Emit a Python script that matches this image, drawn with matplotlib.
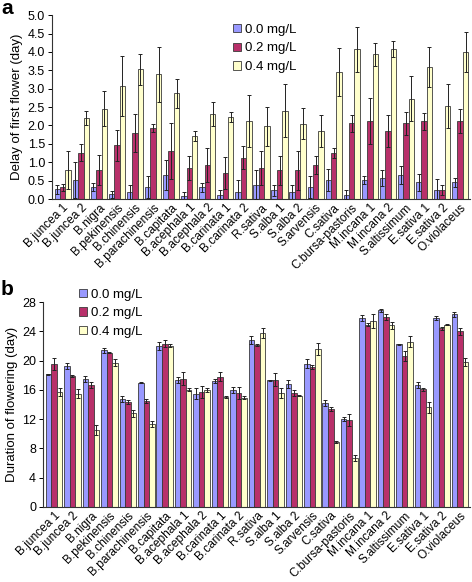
import numpy as np
import matplotlib
matplotlib.use("Agg")
import matplotlib.pyplot as plt

plt.rcParams['font.family'] = ['Liberation Sans', 'DejaVu Sans']

species = ["B.juncea 1", "B.juncea 2", "B.nigra", "B.pekinensis", "B.chinensis",
           "B.parachinensis", "B.capitata", "B.acephala 1", "B.acephala 2",
           "B.carinata 1", "B.carinata 2", "R.sativa", "S.alba 1", "S.alba 2",
           "S.arvensis", "C.sativa", "C.bursa-pastoris", "M.incana 1", "M.incana 2",
           "S.altissimum", "E.sativa 1", "E.sativa 2", "O.violaceus"]
doses = ["0.0 mg/L", "0.2 mg/L", "0.4 mg/L"]

# panel a: delay of first flower (day)
delay_00 = [0.27, 0.52, 0.33, 0.13, 0.19, 0.34, 0.66, 0.07, 0.32, 0.12, 0.19, 0.39,
            0.24, 0.18, 0.32, 0.52, 0.12, 0.52, 0.58, 0.66, 0.45, 0.24, 0.45]
delay_00_err = [0.12, 0.50, 0.10, 0.10, 0.20, 0.30, 0.41, 0.12, 0.12, 0.12, 0.34, 0.40,
                0.15, 0.20, 0.30, 0.30, 0.12, 0.12, 0.22, 0.24, 0.23, 0.30, 0.12]
delay_02 = [0.32, 1.26, 0.79, 1.46, 1.79, 1.93, 1.31, 0.84, 0.92, 0.71, 1.12, 0.84,
            0.78, 0.78, 0.92, 1.25, 2.06, 2.12, 1.85, 2.06, 2.12, 0.24, 2.12]
delay_02_err = [0.10, 0.23, 0.40, 0.42, 0.52, 0.10, 0.77, 0.32, 0.47, 0.44, 0.31, 0.47,
                0.40, 0.53, 0.24, 0.13, 0.23, 0.62, 0.43, 0.31, 0.23, 0.14, 0.32]
delay_04 = [0.79, 2.20, 2.46, 3.07, 3.53, 3.39, 2.87, 1.71, 2.31, 2.24, 2.12, 1.98,
            2.40, 2.05, 1.85, 3.45, 4.07, 3.93, 4.07, 2.73, 3.59, 2.52, 4.00]
delay_04_err = [0.52, 0.20, 0.47, 0.81, 0.42, 0.74, 0.40, 0.13, 0.32, 0.14, 0.70, 0.53,
                0.72, 0.42, 0.43, 0.66, 0.61, 0.30, 0.22, 0.62, 0.54, 0.60, 0.54]

# panel b: duration of flowering (day)
dur_00 = [18.1, 19.3, 17.5, 21.4, 14.8, 17.0, 22.0, 17.4, 15.5, 17.2, 16.0, 22.8,
          17.3, 16.8, 19.6, 14.2, 12.0, 25.8, 26.9, 22.2, 16.7, 25.8, 26.3]
dur_00_err = [0.1, 0.4, 0.4, 0.3, 0.4, 0.1, 0.6, 0.4, 0.7, 0.3, 0.4, 0.5,
              0.1, 0.5, 0.6, 0.4, 0.3, 0.4, 0.2, 0.1, 0.4, 0.3, 0.3]
dur_02 = [19.5, 17.9, 16.7, 21.1, 14.3, 14.5, 22.3, 17.5, 15.7, 17.8, 15.6, 22.1,
          17.4, 15.6, 19.1, 13.4, 11.9, 24.9, 26.0, 20.6, 16.1, 24.4, 24.0]
dur_02_err = [0.8, 0.1, 0.4, 0.1, 0.3, 0.3, 0.5, 0.9, 0.8, 0.6, 0.8, 0.1,
              0.9, 0.4, 0.3, 0.3, 0.8, 0.2, 0.4, 0.7, 0.2, 0.2, 0.5]
dur_04 = [15.7, 15.5, 10.5, 19.7, 12.8, 11.3, 22.0, 16.0, 16.0, 15.0, 14.9, 23.8,
          15.6, 15.2, 21.6, 8.9, 6.7, 25.4, 24.8, 22.6, 13.6, 24.9, 19.8]
dur_04_err = [0.5, 0.6, 0.7, 0.5, 0.5, 0.4, 0.2, 0.2, 0.3, 0.1, 0.2, 0.7,
              0.7, 0.1, 0.8, 0.15, 0.4, 1.0, 0.5, 0.7, 0.7, 0.1, 0.6]

colors = ["#9999ff", "#b8306a", "#ffffcc"]


def draw_panel(ax, series, errors, yticks, fmt):
    x = np.arange(len(species))
    w = 0.3
    for k, (vals, errs) in enumerate(zip(series, errors)):
        ax.bar(x + (k - 1) * w, vals, w, color=colors[k], edgecolor="#3a3a3a",
               linewidth=0.6, label=doses[k], zorder=2)
        ax.errorbar(x + (k - 1) * w, vals, yerr=errs, fmt="none", ecolor="#222222",
                    elinewidth=0.7, capsize=1.5, capthick=0.7, zorder=3)
    ax.set_xlim(-0.6, len(species) - 0.45)
    ax.set_ylim(yticks[0], yticks[-1])
    ax.set_yticks(yticks)
    ax.set_yticklabels([fmt.format(t) for t in yticks], fontsize=9)
    ax.set_xticks(x)
    ax.set_xticklabels(species, rotation=45, ha="right", rotation_mode="anchor",
                       fontsize=8.6)
    ax.tick_params(axis="x", length=0, pad=2)
    ax.tick_params(axis="y", length=3, width=0.7, pad=2)
    for s in ["top", "right"]:
        ax.spines[s].set_visible(False)
    for s in ["left", "bottom"]:
        ax.spines[s].set_linewidth(0.8)
        ax.spines[s].set_color("#333333")


fig = plt.figure(figsize=(4.72, 5.82), dpi=100)

ax1 = fig.add_axes([0.110, 0.658, 0.886, 0.316])
draw_panel(ax1, [delay_00, delay_02, delay_04],
           [delay_00_err, delay_02_err, delay_04_err],
           np.arange(0, 5.01, 0.5), "{:.1f}")
ax1.set_ylabel("Delay of first flower (day)", fontsize=9.5, labelpad=3)
ax1.legend(loc="upper left", bbox_to_anchor=(0.482, 0.968), bbox_transform=fig.transFigure,
           frameon=False, fontsize=9.5, handlelength=0.6, handleheight=0.6,
           handletextpad=0.3, labelspacing=0.5, borderaxespad=0)

ax2 = fig.add_axes([0.091, 0.129, 0.905, 0.352])
draw_panel(ax2, [dur_00, dur_02, dur_04],
           [dur_00_err, dur_02_err, dur_04_err],
           np.arange(0, 29, 4), "{:.0f}")
ax2.set_ylabel("Duration of flowering (day)", fontsize=9.5, labelpad=3)
ax2.legend(loc="upper left", bbox_to_anchor=(0.157, 0.513), bbox_transform=fig.transFigure,
           frameon=False, fontsize=9.5, handlelength=0.6, handleheight=0.6,
           handletextpad=0.3, labelspacing=0.5, borderaxespad=0)

fig.text(0.002, 0.985, "a", fontsize=15, fontweight="bold", va="center", ha="left")
fig.text(0.002, 0.503, "b", fontsize=15, fontweight="bold", va="center", ha="left")

fig.savefig("out.png", dpi=100)
